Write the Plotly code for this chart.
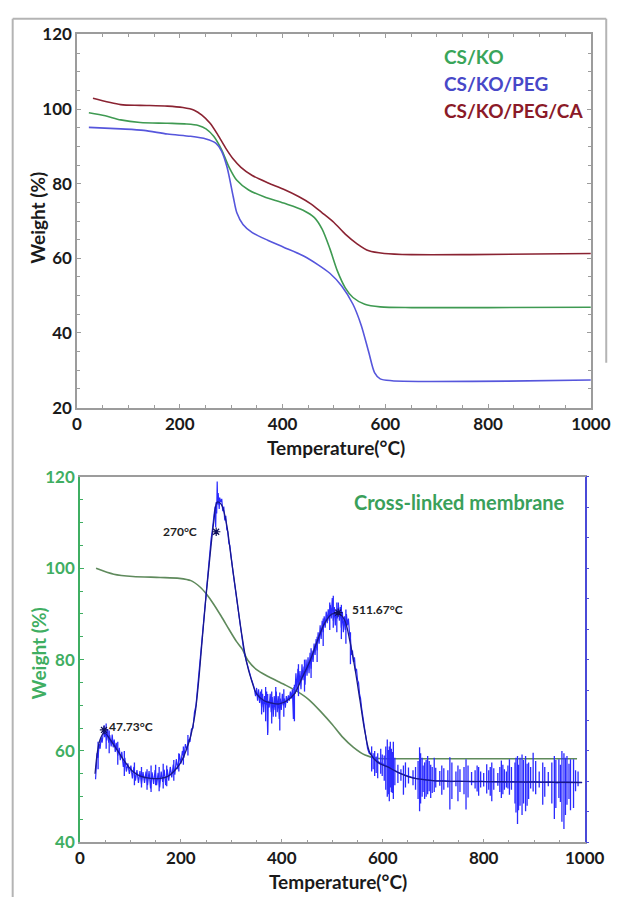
import plotly.graph_objects as go

W, H = 632, 907

# ---------------- top panel data (TGA of three films) ----------------
temp_cs_ko = [23, 55, 85, 123, 176, 213, 236, 251, 266, 281, 296, 311, 334, 364, 402, 440,
              462, 477, 492, 507, 522, 537, 560, 590, 651, 800, 1000]
weight_cs_ko = [99.0, 98.2, 97.1, 96.4, 96.2, 96.0, 95.6, 94.7, 92.7, 89.2, 84.4, 80.9, 78.3, 76.5,
                74.8, 72.9, 70.9, 67.8, 62.6, 56.5, 52.1, 49.5, 47.7, 47.0, 46.8, 46.8, 46.9]

temp_cs_ko_peg = [23, 85, 130, 176, 221, 251, 270, 281, 292, 304, 311, 323, 341, 372, 402, 440,
                  470, 492, 515, 537, 553, 568, 579, 590, 613, 688, 839, 1000]
weight_cs_ko_peg = [95.1, 94.7, 94.3, 93.3, 92.7, 92.0, 90.9, 88.8, 84.4, 76.5, 72.2, 69.1, 66.9,
                    64.8, 63.0, 60.7, 58.2, 56.0, 52.6, 47.7, 42.1, 34.7, 29.4, 27.7, 27.2, 27.0,
                    27.1, 27.4]

temp_cs_ko_peg_ca = [31, 85, 123, 176, 206, 228, 243, 259, 274, 289, 304, 319, 341, 372, 402, 432,
                     455, 477, 500, 522, 545, 568, 598, 651, 764, 1000]
weight_cs_ko_peg_ca = [102.9, 101.2, 101.0, 100.8, 100.4, 99.7, 98.4, 96.2, 93.1, 89.6, 86.6, 84.4,
                       82.2, 80.2, 78.5, 76.5, 74.6, 72.2, 69.6, 66.5, 63.9, 62.0, 61.3, 61.0, 61.0,
                       61.3]

series_names = ["CS/KO", "CS/KO/PEG", "CS/KO/PEG/CA"]
series_colors = ["#3f9a52", "#5656dc", "#8a2332"]
label_colors = ["#3aa55a", "#4848c8", "#8b1a28"]

# ---------------- bottom panel data (cross-linked membrane) ----------------
temp_tga = [32, 67, 105, 159, 197, 220, 238, 251, 264, 280, 295, 310, 321, 333, 350, 373, 404,
            428, 454, 479, 500, 519, 542, 565, 588, 619, 772, 985]
weight_tga = [100.0, 98.7, 98.2, 98.0, 97.8, 97.3, 95.9, 94.3, 92.3, 89.5, 86.7, 84.0, 82.4, 79.8,
              77.8, 76.3, 74.6, 73.2, 71.2, 68.4, 65.8, 63.2, 60.8, 59.1, 58.4, 58.3, 58.3, 58.3]

# raw (noisy) DTG signal, plotted on the weight scale of the figure
dtg_temp = [31, 32, 33, 34, 36, 38, 40, 42, 44, 46, 48, 49, 51, 53, 55, 57, 59, 62, 64, 66, 68, 70,
            72, 75, 78, 80, 83, 86, 89, 92, 95, 98, 101, 104, 107, 110, 113, 116, 119, 122, 125,
            128, 131, 134, 137, 140, 143, 146, 149, 152, 155, 158, 161, 164, 167, 170, 173, 176,
            179, 182, 185, 188, 191, 194, 197, 200, 203, 206, 209, 212, 215, 218, 221, 224, 227,
            230,
            232, 235, 238, 241, 244, 247, 250, 252, 254, 256, 258, 260, 262, 264, 266, 268, 269,
            270, 271, 272, 273, 274, 276, 277, 279, 281, 283, 285, 287, 289, 291, 293, 295, 297,
            300, 303, 306, 309, 312, 315, 318, 321, 324, 327, 330, 333, 336, 339, 342,
            345, 348, 350, 352, 354, 356, 358, 360, 362, 364, 366, 368, 370, 372, 373, 375, 377,
            379, 381, 383, 385, 387, 389, 391, 393, 395, 397, 399, 401, 403, 405, 407, 409, 411,
            413, 415, 417, 419, 421, 423, 424, 426, 428, 430, 432, 434, 436, 438, 440, 442, 444,
            446, 448, 450, 452, 454, 456, 458, 460, 462, 464, 466, 468, 470, 472, 474, 476, 478,
            480, 482, 484, 486, 488, 490, 492, 494, 496, 498, 500, 502, 504, 506, 508, 510, 512,
            514, 516, 518, 520, 522, 524, 526, 528, 530, 532, 534, 536, 538, 540, 542, 544, 546,
            548, 550, 552, 554, 556, 558, 560, 562, 564, 566, 568, 570, 573,
            575, 580, 586, 592, 598, 604, 610, 616, 622, 628, 634, 640, 648, 656, 664, 672, 682,
            692, 705, 720, 735, 750, 765, 780, 795, 810, 825, 840, 855, 870, 885, 900, 915, 930,
            945, 960, 975, 990, 995]
dtg_value = [53.8, 57.0, 55.5, 59.5, 58.5, 61.5, 60.5, 63.0, 61.8, 64.0, 65.6, 63.0, 64.5, 62.3,
             64.8, 61.8, 63.5, 61.0, 63.6, 60.8, 62.5, 59.8, 61.8, 59.0, 60.7, 58.0, 59.8, 56.5,
             58.5, 55.5, 57.3, 55.0, 56.8, 54.0, 56.5, 53.5, 55.8, 53.0, 55.6, 52.8, 55.4, 53.0,
             55.5, 52.5, 55.6, 51.8, 55.3, 52.8, 55.8, 52.5, 55.2, 52.0, 55.5, 53.2, 55.9, 52.5,
             56.0, 53.5, 56.5, 54.2, 57.0, 54.8, 58.2, 56.0, 59.3, 57.2, 60.0, 58.5, 61.5, 60.2,
             62.5, 62.0, 64.8, 65.0, 68.5, 70.0,
             72.5, 75.5, 79.0, 83.0, 87.5, 91.0, 94.0, 96.5, 99.5, 101.0, 104.0, 106.5, 108.0,
             110.5, 112.0, 113.5, 109.0, 114.5, 112.0, 119.0, 114.0, 116.5, 113.0, 115.5, 114.5,
             115.2, 112.5, 113.5, 110.5, 111.5, 108.5, 108.0, 105.5, 105.0, 101.5, 99.5, 97.0,
             94.5, 91.5, 89.0, 86.5, 84.5, 82.5, 80.8, 79.5, 78.2, 77.0, 76.0, 75.0,
             74.0, 72.0, 73.8, 71.0, 73.5, 70.5, 73.0, 69.5, 72.5, 68.5, 72.0, 70.0, 73.0, 64.0,
             71.0, 69.5, 72.5, 68.5, 71.8, 67.5, 72.0, 69.0, 73.0, 68.5, 72.0, 67.0, 71.5, 69.0,
             72.5, 70.0, 71.5, 69.5, 72.0, 70.5, 72.2, 71.0, 73.0, 71.5, 73.5, 67.0, 74.0, 72.5,
             77.0, 73.0, 78.0, 74.5, 77.5, 73.5, 79.0, 75.5, 78.5, 74.5, 80.0, 76.5, 80.5, 77.0,
             81.5, 78.0, 82.0, 79.5, 83.5, 81.0, 84.5, 82.0, 86.0, 83.5, 87.5, 84.5, 88.5, 86.0,
             89.5, 87.0, 90.5, 88.0, 91.0, 88.5, 92.0, 89.0, 93.5, 88.5, 91.5, 87.5, 91.0, 89.0,
             92.5, 88.5, 91.5, 87.0, 90.5, 86.0, 89.5, 86.5, 90.0, 87.5, 89.0, 86.0, 84.5, 81.0,
             82.0, 79.5, 80.5, 77.5, 78.0, 75.5, 75.0, 72.5, 71.5, 69.5, 68.0, 66.0, 64.5, 63.0,
             61.5, 60.5, 59.5,
             59.3, 58.6, 58.1, 57.6, 57.3, 56.9, 56.6, 56.2, 55.8, 55.5, 55.1, 54.9, 54.6, 54.3,
             54.0, 53.9, 53.7, 53.5, 53.4, 53.5, 53.3, 53.4, 53.3, 53.2, 53.4, 53.2, 53.3, 53.1,
             53.3, 53.2, 53.1, 53.3, 53.1, 53.2, 53.0, 53.2, 53.1, 53.0, 53.1]

# vertical noise spikes of the DTG signal (temperature, top, bottom)
spike_temp = [36, 52, 58, 75, 88, 108, 122, 133, 141, 150, 157, 165, 172, 186, 196, 205, 214,
              360, 368, 372, 380, 388, 396, 404, 425, 433, 445, 458, 470, 482, 495, 502, 509, 518,
              527, 536,
              578, 584, 590, 596, 603, 609, 613, 617, 621, 630, 641, 651, 665, 673, 678, 683, 689,
              695, 702, 717, 733, 749, 765, 787, 794, 806, 816, 835, 841, 851, 867, 872, 876, 883,
              889, 898, 917, 940, 949, 955, 959, 965, 978,
              581, 587, 599, 606, 611, 615, 619, 624, 636, 645, 660, 670, 675, 680, 686, 692, 698,
              705, 713, 721, 729, 737, 745, 753, 761, 769, 776, 783, 790, 800, 810, 813, 820, 828,
              832, 838, 845, 848, 855, 862, 864, 869, 879, 886, 893, 903, 910, 921, 928, 935, 943,
              952, 962, 969, 972, 982, 987]
spike_top = [62.0, 66.0, 64.5, 62.0, 60.0, 57.5, 56.5, 56.0, 56.8, 57.0, 56.5, 57.2, 56.8, 58.0,
             59.5, 61.0, 63.5,
             73.5, 74.0, 72.5, 73.0, 74.0, 72.8, 73.5, 74.5, 79.0, 80.0, 82.5, 85.0, 89.0, 92.5,
             94.0, 92.5, 92.0, 91.0, 86.0,
             61.0, 60.0, 59.5, 60.5, 59.0, 62.5, 61.0, 60.5, 62.0, 57.0, 56.8, 56.4, 56.5, 60.8,
             58.5, 57.5, 58.9, 57.0, 58.5, 56.8, 58.6, 56.8, 58.2, 56.8, 55.5, 57.1, 57.5, 57.9,
             56.0, 58.2, 58.9, 58.5, 59.2, 58.9, 57.5, 59.6, 57.5, 58.9, 58.2, 60.0, 59.5, 58.9,
             58.2,
             59.5, 58.8, 59.2, 61.0, 60.2, 62.0, 59.8, 58.5, 56.0, 57.5, 55.8, 57.8, 59.5, 56.8,
             58.0, 57.8, 56.5, 56.3, 55.6, 56.2, 55.8, 57.5, 55.5, 56.0, 56.5, 56.8, 55.4, 55.8,
             56.5, 55.2, 55.8, 56.5, 56.2, 55.2, 56.5, 57.0, 55.5, 56.8, 56.5, 57.5, 58.5, 57.0,
             58.0, 57.2, 56.5, 57.8, 55.5, 56.5, 55.4, 57.5, 58.0, 57.0, 58.5, 57.2, 58.2, 55.8,
             55.5]
spike_bottom = [56.0, 60.5, 59.5, 57.0, 54.5, 52.5, 52.0, 51.5, 51.0, 52.5, 51.2, 51.8, 52.3, 53.5,
                55.5, 57.0, 59.0,
                68.0, 66.5, 63.5, 66.0, 67.5, 64.5, 67.5, 66.5, 72.0, 73.0, 76.0, 79.5, 83.0, 86.5,
                87.0, 86.0, 84.5, 83.5, 79.0,
                55.5, 54.5, 54.0, 55.0, 53.5, 50.0, 49.0, 51.0, 49.5, 53.0, 50.4, 52.9, 51.5, 46.8,
                50.0, 49.5, 50.5, 49.7, 51.0, 50.4, 47.2, 49.0, 47.2, 51.1, 52.0, 50.7, 49.0, 49.7,
                51.5, 50.4, 44.0, 48.0, 46.0, 46.8, 49.5, 51.1, 48.2, 45.1, 49.7, 44.5, 42.9, 48.2,
                47.5,
                56.0, 55.2, 54.5, 51.5, 50.5, 52.0, 50.8, 52.5, 53.5, 52.0, 52.5, 49.5, 48.5, 51.0,
                50.0, 51.2, 50.8, 52.0, 52.4, 51.5, 52.0, 49.5, 52.3, 51.0, 50.5, 49.8, 52.5, 51.8,
                50.2, 52.2, 51.5, 50.2, 51.5, 52.4, 51.0, 50.5, 52.0, 51.8, 51.5, 48.5, 46.5, 47.0,
                48.5, 48.0, 51.8, 50.5, 52.0, 50.0, 52.3, 48.5, 47.5, 48.8, 46.0, 49.5, 47.0, 51.2,
                52.3]

# smoothed DTG curve
dtg_smooth_temp = [30, 35, 40, 48, 60, 75, 90, 105, 120, 140, 160, 175, 190, 200, 210, 220, 228,
                   235, 242, 250, 258, 265, 272, 280, 290, 300, 310, 320, 330, 340, 350, 365, 380,
                   395, 410, 425, 440, 455, 470, 485, 500, 515, 525, 535, 545, 555, 565, 575, 590,
                   610, 630, 650, 670, 700, 800, 900, 995]
dtg_smooth_value = [55.0, 60.0, 62.5, 64.0, 62.5, 60.0, 57.5, 55.5, 54.5, 54.0, 54.0, 54.5, 56.0,
                    57.5, 60.0, 63.5, 68.0, 75.0, 84.0, 94.0, 103.0, 110.0, 114.5, 114.0, 110.0,
                    102.0, 94.0, 86.0, 79.5, 75.5, 72.5, 71.0, 70.5, 70.3, 71.0, 72.5, 76.0, 79.5,
                    84.0, 88.0, 90.0, 90.0, 88.5, 84.0, 78.0, 71.0, 64.0, 59.5, 57.5, 56.5, 55.3,
                    54.4, 53.9, 53.5, 53.3, 53.2, 53.1]

peak_temp = [47.73, 270, 511.67]
peak_value = [64.6, 108.0, 90.3]
peak_labels = ["47.73°C", "270°C", "511.67°C"]


# ---------------- figure ----------------
def px(x):
    return x / W


def py(y):
    return 1 - y / H


FONT = "Lato"
GREEN_AX = "#3fae62"
GREY = "#9c9c9c"
BLUE = "#2a2aff"

fig = go.Figure()

tops = [(temp_cs_ko, weight_cs_ko), (temp_cs_ko_peg, weight_cs_ko_peg),
        (temp_cs_ko_peg_ca, weight_cs_ko_peg_ca)]
for (t, w), name, col in zip(tops, series_names, series_colors):
    fig.add_trace(go.Scatter(x=t, y=w, mode="lines", name=name, xaxis="x", yaxis="y",
                             line=dict(color=col, width=1.6, shape="spline", smoothing=0.8),
                             showlegend=False))

fig.add_trace(go.Scatter(x=temp_tga, y=weight_tga, mode="lines", name="TGA", xaxis="x2", yaxis="y2",
                         line=dict(color="#5f8a5c", width=1.6, shape="spline", smoothing=0.8),
                         showlegend=False))

fig.add_trace(go.Scatter(x=dtg_temp, y=dtg_value, mode="lines", name="DTG", xaxis="x2", yaxis="y3",
                         line=dict(color=BLUE, width=1.2), showlegend=False))
sx, sy = [], []
for t, a, b in zip(spike_temp, spike_top, spike_bottom):
    sx += [t, t, None]
    sy += [a, b, None]
fig.add_trace(go.Scatter(x=sx, y=sy, mode="lines", name="DTG noise", xaxis="x2", yaxis="y3",
                         line=dict(color=BLUE, width=1.3), showlegend=False))
fig.add_trace(go.Scatter(x=dtg_smooth_temp, y=dtg_smooth_value, mode="lines", name="DTG fit",
                         xaxis="x2", yaxis="y3",
                         line=dict(color="#18188a", width=1.3, shape="spline"), showlegend=False))
fig.add_trace(go.Scatter(x=peak_temp, y=peak_value, mode="markers", xaxis="x2", yaxis="y3",
                         marker=dict(symbol="asterisk-open", size=7, color="#10105a",
                                     line=dict(width=1.2, color="#10105a")),
                         showlegend=False))

tickfont = dict(family=FONT, size=17, color="#1a1a1a", weight="bold")
axis_common = dict(showgrid=False, zeroline=False, showline=True, ticks="inside", ticklen=4,
                   tickwidth=1)

fig.update_layout(
    width=W, height=H,
    margin=dict(l=0, r=0, t=0, b=0),
    paper_bgcolor="white", plot_bgcolor="white",
    xaxis=dict(domain=[px(75), px(610)], range=[0, 1000], anchor="y", dtick=200,
               linecolor=GREY, linewidth=1.5, tickcolor=GREY, mirror="allticks",
               minor=dict(dtick=50, ticks="inside", ticklen=3, tickcolor=GREY),
               tickfont=tickfont, **axis_common),
    yaxis=dict(domain=[py(406), py(24)], range=[20, 120], anchor="x", dtick=20,
               linecolor=GREY, linewidth=1.5, tickcolor=GREY, mirror="allticks",
               minor=dict(dtick=5, ticks="inside", ticklen=3, tickcolor=GREY),
               tickfont=tickfont, **axis_common),
    xaxis2=dict(domain=[px(78), px(603.5)], range=[0, 1000], anchor="y2", dtick=200,
                linecolor=GREY, linewidth=1.5, tickcolor=GREY, mirror=True,
                minor=dict(dtick=50, ticks="inside", ticklen=3, tickcolor=GREY),
                tickfont=tickfont, **axis_common),
    yaxis2=dict(domain=[py(851), py(477)], range=[40, 120], anchor="x2", dtick=20,
                linecolor=GREEN_AX, linewidth=1.5, tickcolor=GREEN_AX,
                minor=dict(dtick=5, ticks="inside", ticklen=3, tickcolor=GREEN_AX),
                tickfont=dict(family=FONT, size=17, color=GREEN_AX, weight="bold"),
                **axis_common),
    yaxis3=dict(overlaying="y2", side="right", anchor="x2", range=[40, 120], tick0=40,
                dtick=80 / 12, showticklabels=False, showgrid=False, zeroline=False,
                showline=True, linecolor="#4a4ad8", linewidth=1.5, ticks="outside", ticklen=3,
                tickcolor="#4a4ad8"),
)

ann = []
for i, (name, col) in enumerate(zip(series_names, label_colors)):
    ann.append(dict(x=px(455), y=py(47 + 27.5 * i), xref="paper", yref="paper", text=name,
                    showarrow=False, xanchor="left", yanchor="middle",
                    font=dict(family=FONT, size=19, color=col, weight="bold")))

title_font = dict(family=FONT, size=19, color="#1a1a1a", weight="bold")
centered = dict(xref="paper", yref="paper", showarrow=False, xanchor="center", yanchor="middle")
ann += [
    dict(centered, x=px(33), y=py(212), text="Weight (%)", textangle=-90, font=title_font),
    dict(centered, x=px(345), y=py(447), text="Temperature(°C)", font=title_font),
    dict(centered, x=px(35), y=py(658), text="Weight (%)", textangle=-90,
         font=dict(family=FONT, size=19, color=GREEN_AX, weight="bold")),
    dict(centered, x=px(347), y=py(891), text="Temperature(°C)", font=title_font),
    dict(centered, x=px(473), y=py(503), text="Cross-linked membrane",
         font=dict(family=FONT, size=20, color="#3aa05a", weight="bold")),
]
peak_pos = [(px(106), py(732), "left"), (px(202), py(533), "right"), (px(359), py(613), "left")]
for (x, y, anc), lab in zip(peak_pos, peak_labels):
    ann.append(dict(x=x, y=y, xref="paper", yref="paper", text=lab, showarrow=False,
                    xanchor=anc, yanchor="middle",
                    font=dict(family=FONT, size=12, color="#222222", weight="bold")))
fig.update_layout(annotations=ann)

frame = dict(type="line", xref="paper", yref="paper", line=dict(color="#b4b4b4", width=2))
fig.update_layout(shapes=[
    dict(frame, x0=px(8), x1=px(8), y0=py(8), y1=py(907)),
    dict(frame, x0=px(8), x1=px(626), y0=py(8), y1=py(8)),
    dict(frame, x0=px(626), x1=px(626), y0=py(8), y1=py(360)),
])

page_script = (
    "document.documentElement.style.margin='0px';"
    "document.body.style.margin='0px';"
    "document.body.style.overflow='hidden';"
)
fig.write_html("out.html", config={"displayModeBar": False}, post_script=page_script)
